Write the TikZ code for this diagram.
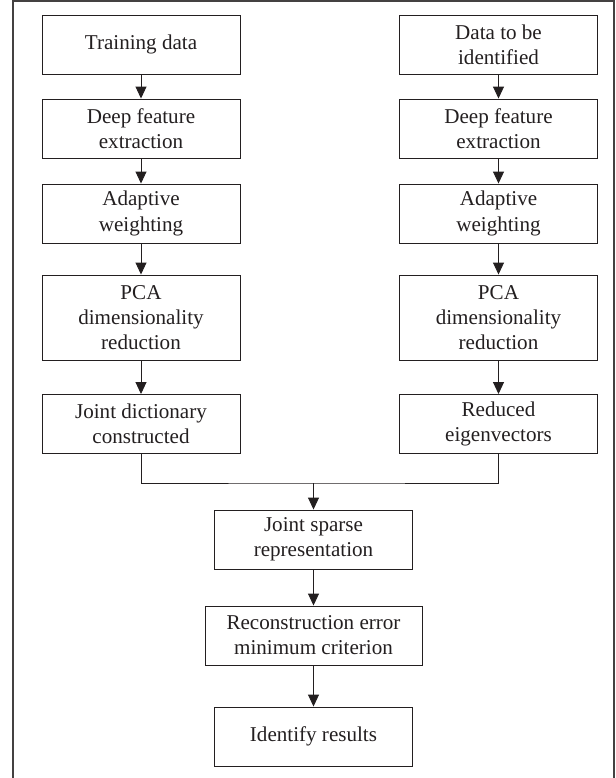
\documentclass[tikz,border=0pt]{standalone}
\usepackage{fontspec}
\setmainfont{Liberation Serif}
\usepackage{tikz}
\usetikzlibrary{arrows.meta,positioning,calc}
\definecolor{inkgray}{HTML}{231F20}
\tikzset{
  flowbox/.style={draw=inkgray, line width=0.8pt, align=center, minimum width=5.94cm, minimum height=1.77cm, inner sep=2pt, text=inkgray, font=\fontsize{18}{21.5}\selectfont},
  flowtallbox/.style={flowbox, minimum height=2.55cm},
  flowwidebox/.style={flowbox, minimum width=6.51cm},
  flowmsg/.style={-{Triangle[length=3.6mm,width=3.3mm]}, draw=inkgray, line width=0.8pt},
  flowline/.style={draw=inkgray, line width=0.8pt},
  frameline/.style={draw=inkgray!85, line width=0.9pt}
}
\begin{document}
\begin{tikzpicture}
\useasboundingbox (0,0) rectangle (18.48,-23.34);
\draw[frameline] (0.39,-23.34) |- (18.42,-0.03) -- (18.42,-23.34);
% left column
\node[flowbox] (train) at (4.23,-1.335) {Training data};
\node[flowbox] (featL) at (4.23,-3.855) {Deep feature\\extraction};
\node[flowbox] (weightL) at (4.23,-6.405) {Adaptive\\weighting};
\node[flowtallbox] (pcaL) at (4.23,-9.525) {PCA\\dimensionality\\reduction};
\node[flowbox] (dict) at (4.23,-12.72) {Joint dictionary\\constructed};
% right column
\node[flowbox] (ident) at (14.955,-1.335) {Data to be\\identified};
\node[flowbox] (featR) at (14.955,-3.855) {Deep feature\\extraction};
\node[flowbox] (weightR) at (14.955,-6.405) {Adaptive\\weighting};
\node[flowtallbox] (pcaR) at (14.955,-9.525) {PCA\\dimensionality\\reduction};
\node[flowbox] (eigen) at (14.955,-12.72) {Reduced\\eigenvectors};
% middle column
\coordinate (merge) at (9.405,-14.49);
\node[flowbox] (sparse) at (9.405,-16.185) {Joint sparse\\representation};
\node[flowwidebox] (recon) at (9.405,-19.065) {Reconstruction error\\minimum criterion};
\node[flowbox] (result) at (9.405,-22.095) {Identify results};
\draw[flowmsg] (train) -- (featL);
\draw[flowmsg] (featL) -- (weightL);
\draw[flowmsg] (weightL) -- (pcaL);
\draw[flowmsg] (pcaL) -- (dict);
\draw[flowmsg] (ident) -- (featR);
\draw[flowmsg] (featR) -- (weightR);
\draw[flowmsg] (weightR) -- (pcaR);
\draw[flowmsg] (pcaR) -- (eigen);
\draw[flowline] (dict.south) |- (merge) -| (eigen.south);
\draw[flowmsg] (merge) -- (sparse);
\draw[flowmsg] (sparse) -- (recon);
\draw[flowmsg] (recon) -- (result);
\end{tikzpicture}
\end{document}
